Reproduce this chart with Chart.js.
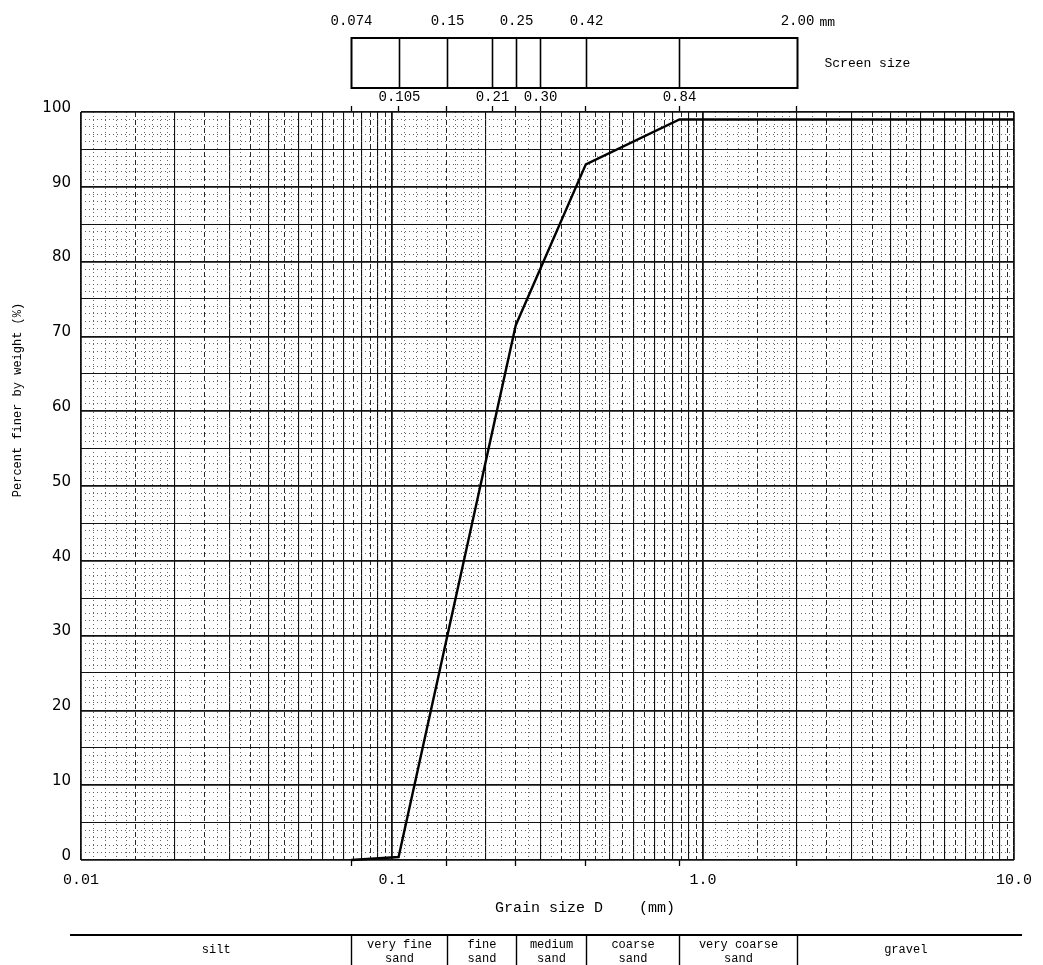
<!DOCTYPE html>
<html>
<head>
<meta charset="utf-8">
<script src="https://cdn.jsdelivr.net/npm/chart.js@4.4.1/dist/chart.umd.min.js"></script>
<style>
  html, body { margin: 0; padding: 0; background: #fff; overflow: hidden; }
  #wrap { position: relative; width: 1043px; height: 965px; }
</style>
</head>
<body>
<div id="wrap"><canvas id="gradation"></canvas></div>
<script>
// Grain size distribution curve (sieve analysis)
const grainSize = [0.074, 0.105, 0.25, 0.42, 0.84, 2.0, 10.0];
const percentFiner = [0, 0.4, 71.5, 93, 99, 99, 99];

// sieve openings in the "Screen size" strip
const sieveTop = [0.074, 0.15, 0.25, 0.42, 2.0];
const sieveTopLabels = ["0.074", "0.15", "0.25", "0.42", "2.00"];
const sieveBottom = [0.105, 0.21, 0.30, 0.84];
const sieveBottomLabels = ["0.105", "0.21", "0.30", "0.84"];

// soil classes under the axis
const classBounds = [0.074, 0.15, 0.25, 0.42, 0.84, 2.0];
const classNames = [
  ["silt"], ["very fine", "sand"], ["fine", "sand"], ["medium", "sand"],
  ["coarse", "sand"], ["very coarse", "sand"], ["gravel"]
];

// axis ticks
const xDecades = [0.01, 0.1, 1, 10];
const xDecadeLabels = ["0.01", "0.1", "1.0", "10.0"];
const yLabelStep = 10;

// log paper rulings (multipliers inside each decade)
const fullMult = [1, 2, 3, 4, 5, 6, 7, 8, 9];
const halfMult = [1.5, 2.5, 3.5, 4.5, 5.5, 6.5, 7.5, 8.5, 9.5];
const dotMult = [1.1, 1.2, 1.3, 1.4, 1.6, 1.7, 1.8, 1.9, 2.25, 2.75, 3.25, 3.75, 4.25, 4.75];

const MONO = '"Liberation Mono", "DejaVu Sans Mono", monospace';
const same = (a, b) => Math.abs(a - b) < 1e-9 * Math.max(1, Math.abs(b));

function xKind(v) {
  const e = Math.floor(Math.log10(v) + 1e-9);
  const m = +(v / Math.pow(10, e)).toFixed(4);
  if (m === 1) return "decade";
  if (Number.isInteger(m)) return "full";
  if (halfMult.includes(m)) return "half";
  if (dotMult.includes(m)) return "dot";
  return "none";
}

function yKind(v) {
  if (v % 10 === 0) return "ten";
  if (v % 5 === 0) return "five";
  return "dot";
}

function xGridValues() {
  const vals = [];
  xDecades.slice(0, -1).forEach((d) => {
    [...fullMult, ...halfMult, ...dotMult].forEach((m) => vals.push(+(d * m).toPrecision(6)));
  });
  vals.push(xDecades[xDecades.length - 1]);
  classBounds.forEach((c) => vals.push(c));
  const uniq = [];
  vals.sort((a, b) => a - b).forEach((v) => {
    if (!uniq.some((u) => same(u, v))) uniq.push(v);
  });
  return uniq;
}

const tickVal = (c) => (c && c.tick ? c.tick.value : null);

// strip above the plot, class table below it, axis titles
const sheetFrame = {
  id: "sheetFrame",
  afterDraw(chart) {
    const { ctx, chartArea } = chart;
    const xs = chart.scales.x;
    const px = (v) => Math.round(xs.getPixelForValue(v)) + 0.5;
    const line = (x1, y1, x2, y2) => {
      ctx.beginPath();
      ctx.moveTo(x1, y1);
      ctx.lineTo(x2, y2);
      ctx.stroke();
    };

    ctx.save();
    ctx.fillStyle = "#000";
    ctx.strokeStyle = "#000";

    // Screen size strip
    const edges = [...sieveTop, ...sieveBottom].sort((a, b) => a - b);
    const sTop = 38, sBot = 88;
    ctx.lineWidth = 2;
    ctx.strokeRect(px(edges[0]), sTop, px(edges[edges.length - 1]) - px(edges[0]), sBot - sTop);
    ctx.lineWidth = 1.6;
    edges.slice(1, -1).forEach((v) => line(px(v), sTop, px(v), sBot));

    ctx.font = "14px " + MONO;
    ctx.textAlign = "center";
    ctx.textBaseline = "middle";
    sieveTop.forEach((v, i) => ctx.fillText(sieveTopLabels[i], px(v), 21));
    sieveBottom.forEach((v, i) => ctx.fillText(sieveBottomLabels[i], px(v), 97));
    ctx.textAlign = "left";
    ctx.font = "13px " + MONO;
    ctx.fillText("mm", px(sieveTop[sieveTop.length - 1]) + 22, 23);
    ctx.fillText("Screen size", px(sieveTop[sieveTop.length - 1]) + 27, 64);

    // axis titles
    ctx.textAlign = "center";
    ctx.font = "15px " + MONO;
    ctx.fillText("Grain size D    (mm)", 585, 908);
    ctx.save();
    ctx.translate(18, 400);
    ctx.rotate(-Math.PI / 2);
    ctx.font = "12px " + MONO;
    ctx.fillText("Percent finer by weight (%)", 0, 0);
    ctx.restore();

    // soil class table
    const tTop = 935;
    ctx.lineWidth = 2.2;
    line(70, tTop, chartArea.right + 8, tTop);
    ctx.lineWidth = 1.4;
    classBounds.forEach((v) => line(px(v), tTop, px(v), 965));
    const cells = [chartArea.left, ...classBounds.map(px), chartArea.right];
    ctx.font = "12px " + MONO;
    classNames.forEach((rows, i) => {
      const cx = (cells[i] + cells[i + 1]) / 2;
      if (rows.length === 1) {
        ctx.fillText(rows[0], cx, 950);
      } else {
        ctx.fillText(rows[0], cx, 945);
        ctx.fillText(rows[1], cx, 959);
      }
    });
    ctx.restore();
  }
};

new Chart(document.getElementById("gradation"), {
  type: "line",
  data: {
    datasets: [{
      data: grainSize.map((g, i) => ({ x: g, y: percentFiner[i] })),
      borderColor: "#000",
      borderWidth: 2.4,
      pointRadius: 0,
      tension: 0,
      fill: false,
      clip: 4,
      xAxisID: "x",
      yAxisID: "y"
    }]
  },
  options: {
    responsive: true,
    maintainAspectRatio: false,
    animation: false,
    events: [],
    layout: { padding: { left: 0, right: 29, top: 0, bottom: 0 } },
    plugins: { legend: { display: false }, tooltip: { enabled: false } },
    scales: {
      x: {
        type: "logarithmic",
        position: "bottom",
        min: 0.01,
        max: 10,
        afterBuildTicks: (s) => { s.ticks = xGridValues().map((v) => ({ value: v })); },
        afterFit: (s) => { s.height = 105; },
        border: {
          display: false,
          dash: (c) => {
            const k = xKind(tickVal(c) || 1);
            if (k === "half") return [5, 3];
            if (k === "dot") return [1, 3];
            return [];
          }
        },
        grid: {
          color: (c) => {
            const k = xKind(tickVal(c) || 1);
            if (k === "dot") return "#555";
            if (k === "none") return "rgba(0,0,0,0)";
            return "#111";
          },
          lineWidth: (c) => {
            const k = xKind(tickVal(c) || 1);
            if (k === "decade") return 1.8;
            if (k === "full") return 1.1;
            return 0.9;
          },
          drawTicks: true,
          tickLength: 6,
          tickWidth: 1.3,
          tickColor: (c) => (classBounds.some((b) => same(b, tickVal(c))) ? "#000" : "rgba(0,0,0,0)")
        },
        ticks: {
          autoSkip: false,
          maxRotation: 0,
          padding: 5,
          color: "#000",
          font: { family: MONO, size: 15 },
          callback: (v) => {
            const i = xDecades.findIndex((d) => same(d, v));
            return i >= 0 ? xDecadeLabels[i] : "";
          }
        }
      },
      x2: {
        type: "logarithmic",
        position: "top",
        min: 0.01,
        max: 10,
        afterBuildTicks: (s) => {
          s.ticks = [...sieveTop, ...sieveBottom].sort((a, b) => a - b).map((v) => ({ value: v }));
        },
        afterFit: (s) => { s.height = 112; },
        border: { display: false },
        grid: {
          drawOnChartArea: false,
          drawTicks: true,
          tickLength: 6,
          tickWidth: 1.3,
          tickColor: "#000"
        },
        ticks: { display: false, autoSkip: false }
      },
      y: {
        type: "linear",
        min: 0,
        max: 100,
        afterBuildTicks: (s) => {
          const t = [];
          for (let v = 0; v <= 100; v++) t.push({ value: v });
          s.ticks = t;
        },
        afterFit: (s) => { s.width = 81; },
        border: {
          display: false,
          dash: (c) => (tickVal(c) !== null && yKind(tickVal(c)) === "dot" ? [1, 3] : [])
        },
        grid: {
          drawTicks: false,
          color: (c) => (tickVal(c) !== null && yKind(tickVal(c)) === "dot" ? "#555" : "#111"),
          lineWidth: (c) => {
            const k = yKind(tickVal(c) || 0);
            if (k === "ten") return 1.8;
            if (k === "five") return 1.1;
            return 0.9;
          }
        },
        ticks: {
          autoSkip: false,
          padding: 10,
          labelOffset: -4,
          color: "#000",
          font: { family: '"DejaVu Sans", sans-serif', size: 15 },
          callback: (v) => (v % yLabelStep === 0 ? String(v) : "")
        }
      }
    }
  },
  plugins: [sheetFrame]
});
</script>
</body>
</html>
